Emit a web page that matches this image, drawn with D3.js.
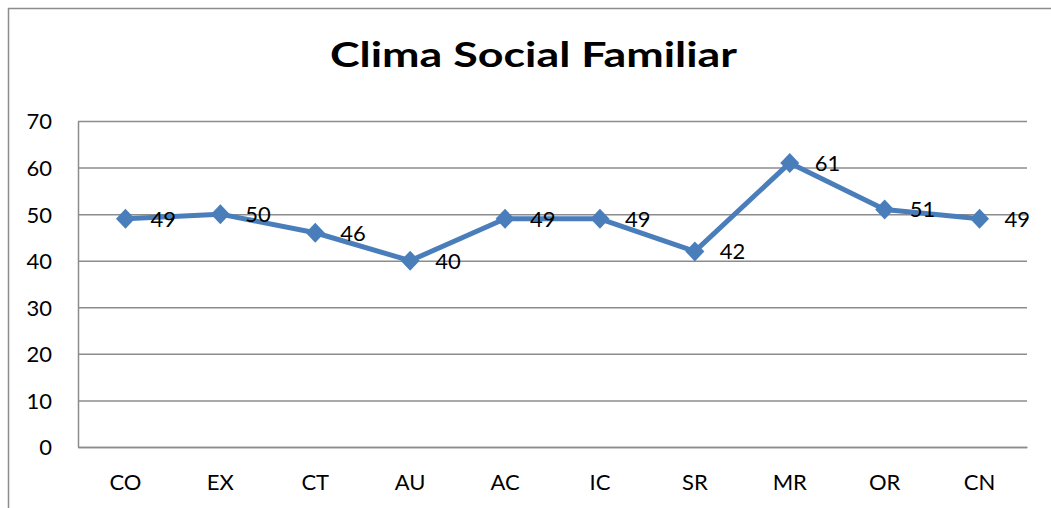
<!DOCTYPE html>
<html>
<head>
<meta charset="utf-8">
<script src="https://cdn.jsdelivr.net/npm/d3@7"></script>
<style>
  body { margin: 0; background: #fff; }
  svg text { font-family: Lato, "Open Sans", sans-serif; fill: #000; }
</style>
</head>
<body>
<div id="chart"></div>
<script>
var categories = ['CO', 'EX', 'CT', 'AU', 'AC', 'IC', 'SR', 'MR', 'OR', 'CN'];
var values = [49, 50, 46, 40, 49, 49, 42, 61, 51, 49];
var yTicks = [0, 10, 20, 30, 40, 50, 60, 70];
var chartTitle = 'Clima Social Familiar';

var W = 1051, H = 508;
var margin = {top: 121, right: 24, bottom: 61, left: 78},
    width = W - margin.left - margin.right,
    height = H - margin.top - margin.bottom;

var svg = d3.select('#chart').append('svg')
    .attr('width', W)
    .attr('height', H);

// outer chart frame
svg.append('rect')
    .attr('x', 8.5).attr('y', 8.5)
    .attr('width', W + 10).attr('height', H + 10)
    .attr('fill', 'none')
    .attr('stroke', '#8c8c8c')
    .attr('stroke-width', 1.5);

svg.append('text')
    .attr('x', 533.5)
    .attr('y', 67)
    .attr('text-anchor', 'middle')
    .attr('textLength', 407)
    .attr('lengthAdjust', 'spacingAndGlyphs')
    .style('font-size', '34px')
    .style('font-weight', 'bold')
    .text(chartTitle);

var g = svg.append('g')
    .attr('transform', 'translate(' + margin.left + ',' + margin.top + ')');

var x = d3.scaleBand().domain(categories).range([0, width]);
var y = d3.scaleLinear().domain([0, 70]).range([height, 0]);

// gridlines
g.append('g')
    .attr('class', 'grid')
    .call(d3.axisLeft(y).tickValues(yTicks).tickSize(-width).tickFormat(''))
    .call(function(s) {
        s.select('.domain').remove();
        s.selectAll('line').attr('stroke', '#8c8c8c').attr('stroke-width', 1.5);
    });

// y axis labels
g.append('g')
    .call(d3.axisLeft(y).tickValues(yTicks).tickSize(0).tickPadding(26))
    .call(function(s) {
        s.select('.domain').attr('stroke', '#8c8c8c').attr('stroke-width', 1.5);
        s.selectAll('text').style('font-size', '22px').attr('dy', '0.36em');
    });

// x axis labels
g.append('g')
    .attr('transform', 'translate(0,' + height + ')')
    .call(d3.axisBottom(x).tickSize(0).tickPadding(27))
    .call(function(s) {
        s.select('.domain').attr('stroke', '#8c8c8c').attr('stroke-width', 1.5);
        s.selectAll('text').style('font-size', '22px');
    });

var cx = function(d, i) { return x(categories[i]) + x.bandwidth() / 2; };

var line = d3.line()
    .x(function(d, i) { return cx(d, i); })
    .y(function(d) { return y(d); });

g.append('path')
    .datum(values)
    .attr('fill', 'none')
    .attr('stroke', '#4a7ebb')
    .attr('stroke-width', 5)
    .attr('stroke-linejoin', 'round')
    .attr('d', line);

// diamond markers
g.selectAll('.marker')
    .data(values)
    .enter().append('path')
    .attr('class', 'marker')
    .attr('d', 'M0,-10L9.5,0L0,10L-9.5,0Z')
    .attr('transform', function(d, i) { return 'translate(' + cx(d, i) + ',' + y(d) + ')'; })
    .attr('fill', '#4a7ebb');

g.selectAll('.label')
    .data(values)
    .enter().append('text')
    .attr('class', 'label')
    .attr('x', function(d, i) { return cx(d, i) + 25; })
    .attr('y', function(d) { return y(d); })
    .attr('dy', '0.36em')
    .style('font-size', '22px')
    .text(function(d) { return d; });
</script>
</body>
</html>
